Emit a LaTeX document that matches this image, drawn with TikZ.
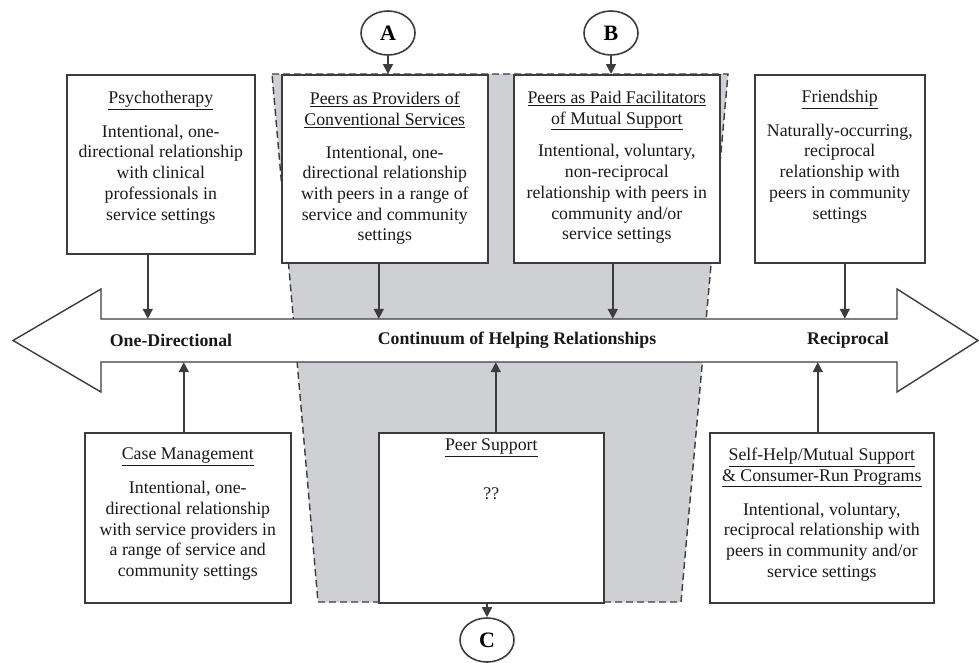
\documentclass[tikz,border=0pt]{standalone}
\usepackage{fontspec}
\setmainfont{Liberation Serif}
\usetikzlibrary{shapes.geometric,arrows.meta}
\definecolor{lineclr}{RGB}{60,60,64}
\definecolor{shade}{RGB}{207,208,211}
\begin{document}
\begin{tikzpicture}[x=1pt,y=-1pt,
  box/.style={draw=lineclr, line width=1.6pt, fill=white, inner sep=0, anchor=north west},
  txt/.style={align=center, inner sep=0, anchor=north, font=\fontsize{17.8}{20.7}\selectfont, text=black!90},
  conn/.style={draw=lineclr, line width=1.6pt, -{Triangle[length=10pt,width=10pt]}},
  lbl/.style={ellipse, draw=lineclr, line width=1.6pt, fill=white, minimum width=54pt, minimum height=44pt, inner sep=0, font=\fontsize{22}{24}\selectfont\bfseries},
  arrlbl/.style={font=\fontsize{17.8}{20.7}\selectfont\bfseries, inner sep=0, text=black!90},
  zone/.style={fill=shade},
  zoneedge/.style={draw=lineclr, line width=1.4pt, dash pattern=on 7pt off 4pt}
]
\useasboundingbox (0,0) rectangle (979,662);

% shaded zone
\fill[zone] (272,74) -- (728,74) -- (681,602) -- (318,602) -- cycle;
\draw[zoneedge] (272,74) -- (728,74) -- (681,602) -- (318,602) -- cycle;

% big double arrow
\draw[lineclr, line width=1.4pt, fill=white, line join=miter]
  (13,340.5) -- (101,289) -- (101,319) -- (897,319) -- (897,289) -- (978,340.5)
  -- (897,392) -- (897,362) -- (101,362) -- (101,392) -- cycle;
\node[inner sep=0, minimum width=796pt, minimum height=43pt] (shaft) at (499,340.5) {};

\node[arrlbl] (oned) at (171,340) {One-Directional};
\node[arrlbl] (cont) at (517,340) {Continuum of Helping Relationships};
\node[arrlbl] (recip) at (848,340) {Reciprocal};

% boxes
\node[box, minimum width=188pt, minimum height=179pt] (psy) at (66,74) {};
\node[box, minimum width=206pt, minimum height=188pt] (prov) at (281,74) {};
\node[box, minimum width=206pt, minimum height=188pt] (paid) at (513,74) {};
\node[box, minimum width=170pt, minimum height=188pt] (fri) at (754,74) {};
\node[box, minimum width=206pt, minimum height=170pt] (case) at (84,432) {};
\node[box, minimum width=225pt, minimum height=170pt] (peer) at (378,432) {};
\node[box, minimum width=224pt, minimum height=170pt] (self) at (709,432) {};

% box texts
\node[txt] (psyT) at ([yshift=-17pt]psy.north) {\underline{Psychotherapy}\\[13pt]
  Intentional, one-\\directional relationship\\with clinical\\professionals in\\service settings};
\node[txt] (provT) at ([yshift=-18pt]prov.north) {\underline{Peers as Providers of}\\\underline{Conventional Services}\\[12pt]
  Intentional, one-\\directional relationship\\with peers in a range of\\service and community\\settings};
\node[txt] (paidT) at ([yshift=-17pt]paid.north) {\underline{Peers as Paid Facilitators}\\\underline{of Mutual Support}\\[12pt]
  Intentional, voluntary,\\non-reciprocal\\relationship with peers in\\community and/or\\service settings};
\node[txt] (friT) at ([yshift=-16pt]fri.north) {\underline{Friendship}\\[13pt]
  Naturally-occurring,\\reciprocal\\relationship with\\peers in community\\settings};
\node[txt] (caseT) at ([yshift=-16pt]case.north) {\underline{Case Management}\\[13pt]
  Intentional, one-\\directional relationship\\with service providers in\\a range of service and\\community settings};
\node[txt] (peerT) at ([yshift=-7pt]peer.north) {\underline{Peer Support}\\[28pt]??};
\node[txt] (selfT) at ([yshift=-16pt]self.north) {\underline{Self-Help/Mutual Support}\\\underline{\& Consumer-Run Programs}\\[13pt]
  Intentional, voluntary,\\reciprocal relationship with\\peers in community and/or\\service settings};

% letter labels
\node[lbl] (A) at (388,33) {A};
\node[lbl] (B) at (611,33) {B};
\node[lbl] (C) at (487,640) {C};

% connectors
\draw[conn] (A.south) -- (A.south |- prov.north);
\draw[conn] (B.south) -- (B.south |- paid.north);
\draw[conn] (C.north |- peer.south) -- (C.north);
\draw[conn] ([xshift=-13pt]psy.south) -- ([xshift=-13pt]psy.south |- shaft.north);
\draw[conn] ([xshift=-6pt]prov.south) -- ([xshift=-6pt]prov.south |- shaft.north);
\draw[conn] ([xshift=-4pt]paid.south) -- ([xshift=-4pt]paid.south |- shaft.north);
\draw[conn] ([xshift=5pt]fri.south) -- ([xshift=5pt]fri.south |- shaft.north);
\draw[conn] ([xshift=-4pt]case.north) -- ([xshift=-4pt]case.north |- shaft.south);
\draw[conn] ([xshift=4.5pt]peer.north) -- ([xshift=4.5pt]peer.north |- shaft.south);
\draw[conn] ([xshift=-4pt]self.north) -- ([xshift=-4pt]self.north |- shaft.south);
\end{tikzpicture}
\end{document}
